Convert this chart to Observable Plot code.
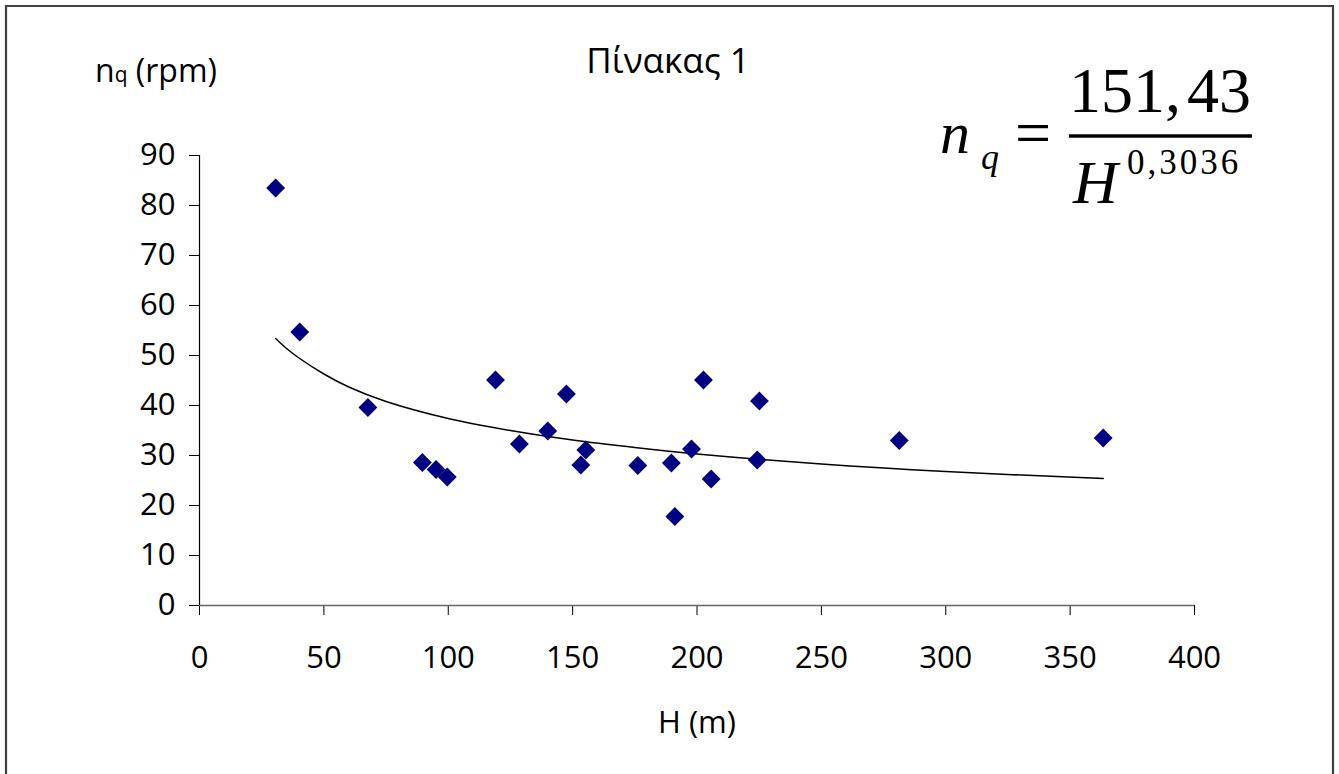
<!DOCTYPE html>
<html><head><meta charset="utf-8">
<script src="https://cdn.jsdelivr.net/npm/d3@7"></script>
<script src="https://cdn.jsdelivr.net/npm/@observablehq/plot@0.6"></script>
<style>
html,body{margin:0;padding:0;background:#fff;}
#wrap{position:relative;width:1339px;height:774px;overflow:hidden;background:#fff;}
#chart{position:absolute;left:0;top:0;}
#ann{position:absolute;left:0;top:0;pointer-events:none;}
</style></head><body>
<div id="wrap">
<div id="chart"></div>
<svg id="ann" width="1339" height="774" xmlns="http://www.w3.org/2000/svg">
  <path d="M6,800 V6 H1333 V800" fill="none" stroke="#404040" stroke-width="2.2"/>
  <text x="668" y="73" text-anchor="middle" font-family="'Open Sans', sans-serif" font-size="35">Πίνακας 1</text>
  <text x="95" y="82" font-family="'Open Sans', sans-serif" font-size="32">n<tspan font-size="21">q</tspan> (rpm)</text>
  <text x="697" y="733" text-anchor="middle" font-family="'Open Sans', sans-serif" font-size="31">H (m)</text>
  <g font-family="'Liberation Serif', 'Times New Roman', serif">
    <text x="940" y="153" font-size="60" font-style="italic">n</text>
    <text x="981" y="169" font-size="36" font-style="italic">q</text>
    <text x="1015" y="154" font-size="64">=</text>
    <text x="1160" y="112" text-anchor="middle" font-size="64">151,<tspan dx="6">43</tspan></text>
    <line x1="1069" y1="136" x2="1252" y2="136" stroke="#000" stroke-width="3.5"/>
    <text x="1073" y="203" font-size="62" font-style="italic">H</text>
    <text x="1127" y="174" font-size="35" letter-spacing="3">0,3036</text>
  </g>
</svg>
</div>
<script>
// Scatter data: H (m) and n_q (rpm)
const H  = [30.6, 40.3, 67.7, 89.6, 95.1, 99.6, 119.0, 128.6, 140.0, 147.5, 153.3, 155.3, 176.2, 189.7, 191.1, 197.8, 202.6, 205.7, 224.2, 225.1, 281.3, 363.3];
const nq = [83.5, 54.7, 39.6, 28.6, 27.2, 25.7, 45.1, 32.3, 34.9, 42.3, 28.1, 31.1, 28.0, 28.5, 17.8, 31.3, 45.1, 25.3, 29.1, 40.9, 33.0, 33.5];

// Trend line values
const trendH = [30.6, 35, 40, 50, 60, 75, 100, 125, 150, 175, 200, 250, 300, 363.3];
const trendN = [53.4, 51.4, 49.5, 46.3, 43.7, 40.8, 37.4, 35.0, 33.1, 31.6, 30.3, 28.3, 26.8, 25.4];

// Tick values
const xTicks = [0, 50, 100, 150, 200, 250, 300, 350, 400];
const yTicks = [0, 10, 20, 30, 40, 50, 60, 70, 80, 90];

const points = H.map((h, i) => ({H: h, n: nq[i]}));
const trend = trendH.map((h, i) => ({H: h, n: trendN[i]}));

const chart = Plot.plot({
  width: 1339,
  height: 774,
  marginLeft: 199,
  marginRight: 145,
  marginTop: 155,
  marginBottom: 169,
  style: {fontFamily: "'Open Sans', sans-serif", fontSize: "31px", color: "#000", background: "transparent", overflow: "visible"},
  x: {domain: [0, 400], label: null},
  y: {domain: [0, 90], label: null},
  marks: [
    Plot.axisY({ticks: yTicks, tickSize: 10, tickPadding: 14, label: null, stroke: "#000", tickFormat: d => String(d)}),
    Plot.axisX({ticks: xTicks, tickSize: 10, tickPadding: 30, label: null, stroke: "#000", tickFormat: d => String(d)}),
    Plot.ruleX([0], {y1: 0, y2: 90, stroke: "#000", strokeWidth: 1.2}),
    Plot.ruleY([0], {x1: 0, x2: 400, stroke: "#666", strokeWidth: 1.5}),
    Plot.line(trend, {x: "H", y: "n", stroke: "#000", strokeWidth: 1.5, curve: "catmull-rom"}),
    Plot.dot(points, {x: "H", y: "n", symbol: "diamond2", r: 8.5, fill: "#000080", stroke: "none"})
  ]
});
document.getElementById("chart").appendChild(chart);
</script>
</body></html>
